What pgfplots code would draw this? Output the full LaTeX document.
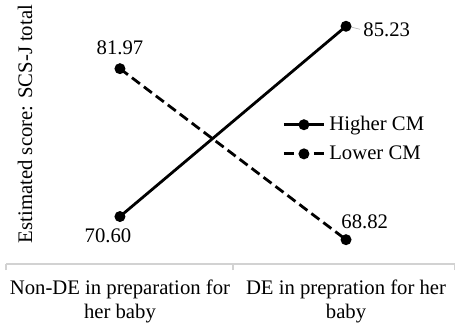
\documentclass[border=0pt]{standalone}
\usepackage{fontspec}
\setmainfont{Liberation Serif}
\usepackage{pgfplots}
\pgfplotsset{compat=1.18}
\begin{document}
\fontsize{10.35pt}{12pt}\selectfont
\begin{tikzpicture}
\useasboundingbox (0pt,0pt) rectangle (227.5pt,161pt);
\begin{axis}[
  at={(3pt,29pt)}, anchor=south west,
  width=224.5pt, height=132pt, scale only axis,
  xmin=-0.504, xmax=1.482, ymin=66.95, ymax=87.25,
  axis x line=bottom, axis y line=none,
  x axis line style={-, draw=gray!35, line width=0.6pt},
  xtick={0,1},
  xticklabels={{Non-DE in preparation for\\her baby},{DE in prepration for her\\baby}},
  xticklabel style={align=center, font=\fontsize{10.35pt}{11.6pt}\selectfont, yshift=-4.5pt},
  major tick length=0pt,
  extra x ticks={-0.504,0.5,1.482},
  extra x tick labels={},
  extra x tick style={major tick length=3pt, tick style={draw=gray!35, line width=0.6pt}, tick align=outside},
  clip=false,
  legend style={at={(0.615,0.473)}, anchor=west, draw=none, fill=none,
    font=\fontsize{10.35pt}{12pt}\selectfont, row sep=2pt, inner sep=0pt,
    /tikz/every even column/.append style={column sep=0pt}},
  legend cell align=left,
  legend image code/.code={\draw[#1, mark=none] (0pt,0pt) -- (20pt,0pt); \draw[#1, solid] plot coordinates {(10pt,0pt)};},
]
\addplot[black, line width=1.4pt, mark=*, mark size=2pt, mark options={solid}] coordinates {(0,70.60) (1,85.23)};
\addlegendentry{Higher CM}
\addplot[black, line width=1.4pt, dash pattern=on 5pt off 2.5pt, mark=*, mark size=2pt, mark options={solid}] coordinates {(0,81.97) (1,68.82)};
\addlegendentry{Lower CM}
\node[anchor=south, inner sep=0pt] at (axis cs:0,81.97) [yshift=6.5pt] {81.97};
\node[anchor=north, inner sep=0pt] at (axis cs:0,70.60) [xshift=-6pt, yshift=-6pt] {70.60};
\draw[gray!60, line width=0.3pt] (axis cs:1,85.23) ++(1pt,0pt) -- ++(6pt,-1.5pt) coordinate (lab);
\node[anchor=west, inner sep=1.5pt] at (lab) {85.23};
\node[anchor=south west, inner sep=0pt] at (axis cs:1,68.82) [xshift=-2.5pt, yshift=5pt] {68.82};
\end{axis}
\node[rotate=90, inner sep=0pt] at (12.5pt,99pt) {Estimated score: SCS-J total};
\end{tikzpicture}
\end{document}
